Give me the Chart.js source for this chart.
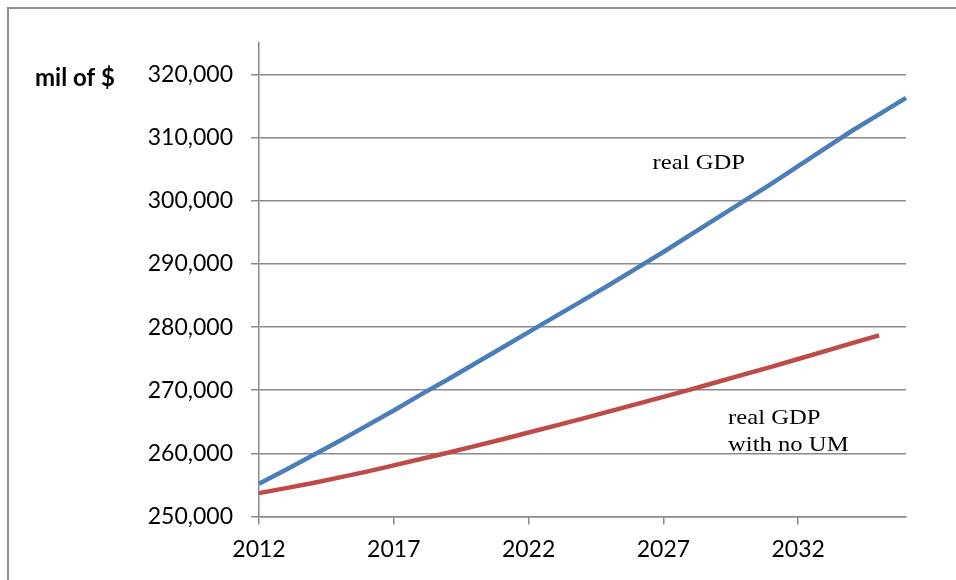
<!doctype html>
<html lang="en">
  <head>
    <meta charset="utf-8">
    <title>Real GDP</title>
    <script src="https://cdn.jsdelivr.net/npm/chart.js"></script>
    <style>
      body { margin: 0; background: #fff; }
      #frame { position: absolute; left: 7px; top: 7px; width: 1000px; height: 700px; border: 2px solid #8f8f8f; }
      #chartContainer { position: absolute; left: 0; top: 0; width: 956px; height: 580px; }
    </style>
  </head>
  <body>
    <div id="frame"></div>
    <div id="chartContainer">
      <canvas id="myChart" width="956" height="580"></canvas>
    </div>

<script type="text/javascript">
      // years on the category axis
      var years = [2012, 2013, 2014, 2015, 2016, 2017, 2018, 2019, 2020, 2021, 2022, 2023, 2024,
                   2025, 2026, 2027, 2028, 2029, 2030, 2031, 2032, 2033, 2034, 2035, 2036];

      // mil of $
      var realGdp = [255200, 257400, 259700, 262000, 264400, 266800, 269300, 271700, 274200, 276700,
                     279200, 281700, 284200, 286700, 289300, 291900, 294600, 297300, 300000, 302700,
                     305500, 308300, 311100, 313700, 316300];

      var realGdpNoUm = [253700, 254500, 255300, 256200, 257100, 258100, 259100, 260100, 261150, 262200,
                         263300, 264400, 265500, 266650, 267800, 268950, 270100, 271300, 272500, 273700,
                         274950, 276200, 277450, 278700];

      var xTickYears = [2012, 2017, 2022, 2027, 2032];
      var yTickValues = [250000, 260000, 270000, 280000, 290000, 300000, 310000, 320000];

      // text notes placed next to the lines (year, value of first baseline)
      var notes = [
        { lines: ['real GDP'], year: 2026.6, value: 305000 },
        { lines: ['real GDP', 'with no UM'], year: 2029.4, value: 264600 }
      ];

      var gridGray = '#8a8a8a';

      const notesPlugin = {
        id: 'notes',
        afterDatasetsDraw(chart) {
          const ctx = chart.ctx;
          const xs = chart.scales.x, ys = chart.scales.y;
          ctx.save();
          ctx.fillStyle = '#000';
          ctx.textBaseline = 'alphabetic';
          ctx.textAlign = 'left';
          ctx.font = '22px "Liberation Serif", "Times New Roman", serif';
          notes.forEach(n => {
            const x = xs.getPixelForValue(n.year - years[0]);
            const y = ys.getPixelForValue(n.value);
            n.lines.forEach((t, i) => {
              // the serif notes run a little wide
              ctx.save();
              ctx.translate(x, y + i * 27);
              ctx.scale(1.12, 1);
              ctx.fillText(t, 0, 0);
              ctx.restore();
            });
          });
          // unit label next to the top tick
          ctx.font = 'bold 24px Lato, sans-serif';
          ctx.fillText('mil of $', 35, ys.getPixelForValue(320000) + 11);
          ctx.restore();
        }
      };

      const data = {
        labels: years,
        datasets: [{
          label: 'real GDP',
          data: realGdp,
          borderColor: '#4a7ebb',
          backgroundColor: '#4a7ebb',
          borderWidth: 4.5,
          pointRadius: 0,
          tension: 0
        }, {
          label: 'real GDP with no UM',
          data: realGdpNoUm,
          borderColor: '#be4b48',
          backgroundColor: '#be4b48',
          borderWidth: 4.5,
          pointRadius: 0,
          tension: 0
        }]
      };

      const config = {
        type: 'line',
        data: data,
        plugins: [notesPlugin],
        options: {
          responsive: false,
          animation: false,
          layout: { padding: { left: 0, top: 43, right: 50, bottom: 0 } },
          plugins: {
            legend: { display: false },
            tooltip: { enabled: false }
          },
          scales: {
            x: {
              type: 'category',
              offset: false,
              afterBuildTicks: axis => {
                axis.ticks = xTickYears.map(yr => ({ value: years.indexOf(yr) }));
              },
              afterFit: axis => { axis.height = 63.5; },
              grid: { drawOnChartArea: false, drawTicks: true, tickLength: 8, color: gridGray, lineWidth: 1.5 },
              border: { display: true, color: gridGray, width: 1.5 },
              ticks: {
                autoSkip: false,
                maxRotation: 0,
                padding: 11,
                color: '#000',
                font: { family: 'Lato', size: 23 }
              }
            },
            y: {
              min: 250000,
              max: 325000,
              bounds: 'data',
              afterBuildTicks: axis => {
                axis.ticks = yTickValues.map(v => ({ value: v }));
              },
              afterFit: axis => { axis.width = 259; },
              grid: { color: gridGray, lineWidth: 1.5, tickLength: 8 },
              border: { display: true, color: gridGray, width: 1.5 },
              ticks: {
                padding: 18,
                color: '#000',
                font: { family: 'Lato', size: 23 },
                callback: v => v.toLocaleString('en-US')
              }
            }
          }
        }
      };

      var myChart = new Chart(document.getElementById('myChart'), config);
</script>
  </body>
</html>
